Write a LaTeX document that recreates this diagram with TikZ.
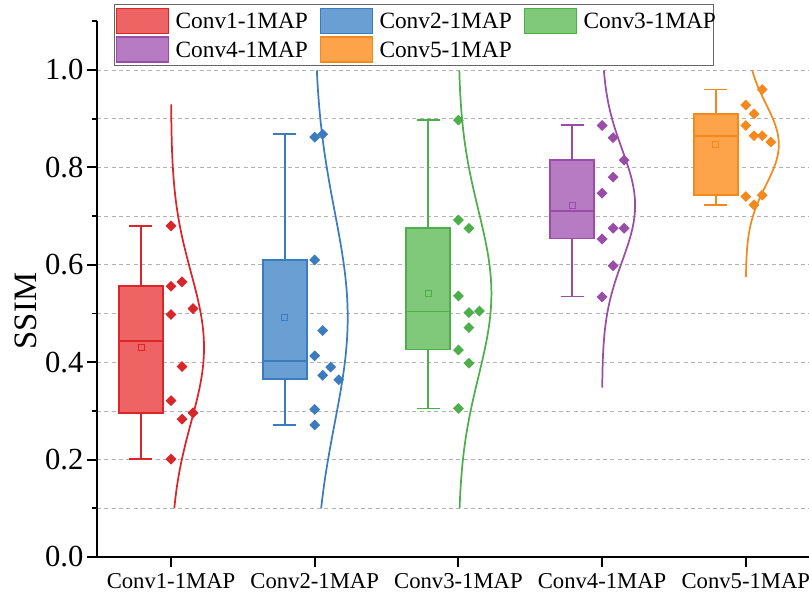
\documentclass[tikz,border=0pt]{standalone}
\usepackage{fontspec}
\setmainfont{Liberation Serif}
\usepackage{xcolor}
\usetikzlibrary{shapes.geometric,positioning}
\definecolor{line1}{RGB}{217,38,43}
\definecolor{fill1}{RGB}{238,99,99}
\definecolor{line2}{RGB}{58,124,190}
\definecolor{fill2}{RGB}{106,159,212}
\definecolor{line3}{RGB}{77,175,74}
\definecolor{fill3}{RGB}{128,200,122}
\definecolor{line4}{RGB}{154,77,168}
\definecolor{fill4}{RGB}{183,123,196}
\definecolor{line5}{RGB}{245,137,30}
\definecolor{fill5}{RGB}{253,163,74}
\tikzset{
  ax/.style={line width=1.4pt, black},
  gridln/.style={black!30, line width=0.6pt, dash pattern=on 3pt off 2.5pt},
  boxln/.style={line width=1.35pt},
  curve/.style={line width=1.3pt},
  dot/.style={diamond, aspect=1, inner sep=0pt, minimum width=8.3pt, minimum height=8.3pt},
  meansq/.style={rectangle, inner sep=0pt, minimum size=4.5pt, line width=0.45pt},
  swatch/.style={rectangle, inner sep=0pt, minimum width=39pt, minimum height=18.75pt, line width=0.8pt},
  lgtxt/.style={inner sep=0pt, font=\fontsize{17.5}{20}\selectfont},
  xlbl/.style={font=\fontsize{17}{20}\selectfont, anchor=base},
  ylbl/.style={font=\fontsize{23}{27}\selectfont, anchor=east, inner sep=2pt},
}
\begin{document}
\begin{tikzpicture}[x=107.775pt, y=365.25pt]
\useasboundingbox (-0.19,-0.09035) rectangle (5.4398,1.14374);
% dashed grid
\foreach \i in {1,...,10}
  \draw[gridln] (0.485,\i/10) -- (5.4398,\i/10);
% normal curves
\foreach \k/\mn/\sd/\lo/\hi in {1/0.430/0.154/0.100/0.930, 2/0.492/0.217/0.100/1.000,
    3/0.541/0.171/0.100/1.000, 4/0.722/0.115/0.348/1.000, 5/0.847/0.084/0.575/1.000}
  \draw[line\k, curve] plot[domain=\lo:\hi, samples=80, smooth]
    ({\k+0.2296*exp(-(\x-\mn)*(\x-\mn)/(2*\sd*\sd))}, \x);
% boxes, whiskers and means
\foreach \k/\wl/\qa/\md/\qb/\wh/\mn in {1/0.201/0.296/0.443/0.556/0.680/0.430,
    2/0.271/0.365/0.402/0.610/0.868/0.492, 3/0.305/0.426/0.504/0.675/0.897/0.541,
    4/0.535/0.654/0.710/0.816/0.887/0.722, 5/0.723/0.743/0.865/0.910/0.960/0.847}
{
  \draw[line\k, boxln] ({\k-0.209},\wl) -- ({\k-0.209},\qa)
                       ({\k-0.209},\qb) -- ({\k-0.209},\wh)
                       ({\k-0.289},\wl) -- ({\k-0.129},\wl)
                       ({\k-0.289},\wh) -- ({\k-0.129},\wh);
  \draw[line\k, fill=fill\k, boxln] ({\k-0.362},\qa) rectangle ({\k-0.056},\qb);
  \draw[line\k, boxln] ({\k-0.362},\md) -- ({\k-0.056},\md);
  \node[meansq, draw=line\k] (mean\k) at ({\k-0.209},\mn) {};
}
% jittered samples
\foreach \k/\st/\pts in {
    1/11/{0/0.680,0/0.556,1/0.565,2/0.510,0/0.498,1/0.391,0/0.321,2/0.296,1/0.283,0/0.201},
    2/8/{0/0.862,1/0.868,0/0.610,1/0.465,0/0.413,2/0.390,1/0.373,3/0.364,0/0.303,0/0.271},
    3/10.5/{0/0.897,0/0.692,1/0.675,0/0.536,1/0.502,2/0.505,1/0.471,0/0.425,1/0.398,0/0.305},
    4/11/{0/0.886,1/0.861,2/0.815,1/0.780,0/0.747,1/0.675,2/0.675,0/0.653,1/0.598,0/0.534},
    5/8.2/{2/0.960,0/0.928,1/0.910,0/0.886,1/0.865,2/0.865,3.05/0.852,0/0.740,2/0.743,1/0.723}}
  \foreach \j/\v [count=\n] in \pts
    \node[dot, fill=line\k] (pt\k-\n) at ({\k+\j*\st/143.7},\v) {};
% axes
\draw[ax] (0.485,1.1) -- (0.485,0) -- (5.4398,0);
\foreach \v [count=\n] in {0.0,0.2,0.4,0.6,0.8,1.0}
  \draw[ax] (0.485,\v) -- ++(-7.5pt,0) node[ylbl] (ytk\n) {\v};
\foreach \v in {0.1,0.3,0.5,0.7,0.9,1.1}
  \draw[ax] (0.485,\v) -- ++(-3.75pt,0);
\foreach \k in {1,...,5} {
  \draw[ax] (\k,0) -- ++(0,-7.5pt);
  \node[xlbl] (xtk\k) at (\k,-0.0657) {Conv\k-1MAP};
}
\node[rotate=90, font=\fontsize{24.5}{28}\selectfont] (ylab) at (-0.009,0.505) {SSIM};
% legend
\draw[black!60, line width=0.75pt, fill=white] (0.6054,1.0088) rectangle (4.7738,1.1335);
\foreach \k/\px/\py in {1/0.8041/1.101, 2/2.2227/1.101, 3/3.6433/1.101,
    4/0.8041/1.0421, 5/2.2227/1.0421}
{
  \node[swatch, fill=fill\k, draw=line\k] (sw\k) at (\px,\py) {};
  \node[lgtxt, right=4.5pt of sw\k] (lg\k) {Conv\k-1MAP};
}
\end{tikzpicture}
\end{document}
